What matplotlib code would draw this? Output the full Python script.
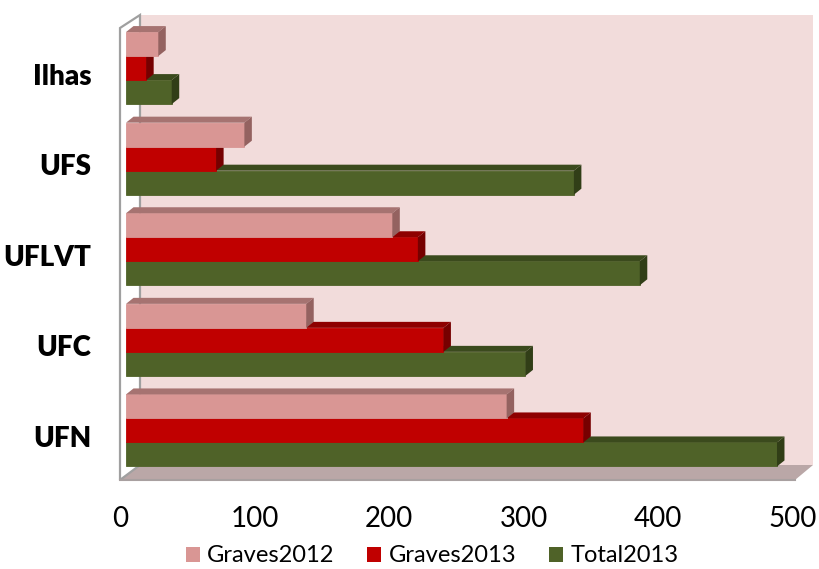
import matplotlib
matplotlib.use('Agg')
import matplotlib.pyplot as plt
from matplotlib.patches import Polygon, Patch
from matplotlib.transforms import ScaledTranslation, IdentityTransform

plt.rcParams['font.family'] = ['Lato', 'DejaVu Sans']

# categories listed bottom -> top
categories = ['UFN', 'UFC', 'UFLVT', 'UFS', 'Ilhas']
graves2012 = [283, 134, 198, 88, 24]
graves2013 = [340, 236, 217, 67, 15]
total2013 = [484, 297, 382, 333, 34]
series_names = ['Graves2012', 'Graves2013', 'Total2013']

# front, top, side colours
colours = {
    'Graves2012': ('#D99694', '#A67371', '#946260'),
    'Graves2013': ('#C00000', '#8E0000', '#760000'),
    'Total2013': ('#4F6228', '#3B4A1D', '#313E17'),
}

W, H = 820, 569
fig = plt.figure(figsize=(W / 100, H / 100), dpi=100)

# walls and floor, drawn in pixel space
bg = fig.add_axes([0, 0, 1, 1], zorder=0)
bg.set_xlim(0, W)
bg.set_ylim(H, 0)
bg.axis('off')
bg.add_patch(Polygon([(140, 15), (813, 15), (813, 465), (140, 465)],
                     closed=True, fc='#F2DCDB', ec='none'))
bg.add_patch(Polygon([(120, 480), (795, 480), (813, 465), (140, 465)],
                     closed=True, fc='#BAA7A7', ec='none'))
bg.plot([120, 795], [479.5, 479.5], color='#A8A0A0', lw=1.5)
bg.add_patch(Polygon([(120, 28), (140, 15), (140, 465), (120, 480)],
                     closed=True, fc='white', ec='#A0A0A0', lw=1.6))

ax = fig.add_axes([126 / W, (H - 480) / H, 672.5 / W, (480 - 15) / H], zorder=1)
ax.set_xlim(0, 500)
ax.set_ylim(-0.547, 4.586)
ax.patch.set_visible(False)
for s in ax.spines.values():
    s.set_visible(False)

h = 0.265
offsets = {'Graves2012': h, 'Graves2013': 0, 'Total2013': -h}
data = {'Graves2012': graves2012, 'Graves2013': graves2013, 'Total2013': total2013}
dx, dy = 7.5, 6

z = 2.0
for i in range(len(categories)):
    for name in ['Total2013', 'Graves2013', 'Graves2012']:
        front, topc, sidec = colours[name]
        y = i + offsets[name]
        v = data[name][i]
        ax.barh(y, v, height=h, color=front, zorder=z, lw=0.6, edgecolor=front)
        x0, yb = ax.transData.transform((0, y - h / 2))
        x1, yt = ax.transData.transform((v, y + h / 2))
        top = [(x0, yt), (x1, yt), (x1 + dx, yt + dy), (x0 + dx, yt + dy)]
        side = [(x1, yb), (x1, yt), (x1 + dx, yt + dy), (x1 + dx, yb + dy)]
        ax.add_patch(Polygon(top, closed=True, transform=IdentityTransform(),
                             fc=topc, ec='none', zorder=z, clip_on=False))
        ax.add_patch(Polygon(side, closed=True, transform=IdentityTransform(),
                             fc=sidec, ec='none', zorder=z, clip_on=False))
        z += 0.01

ax.set_xticks([0, 100, 200, 300, 400, 500])
ax.tick_params(axis='x', length=0, pad=19, labelsize=20)
for lab in ax.get_xticklabels():
    lab.set_transform(lab.get_transform() + ScaledTranslation(-6 / 100, 0, fig.dpi_scale_trans))

ax.set_yticks(range(len(categories)))
ax.set_yticklabels(categories, fontweight='heavy', fontsize=20)
ax.tick_params(axis='y', length=0, pad=25)
for lab in ax.get_yticklabels():
    lab.set_transform(lab.get_transform() + ScaledTranslation(0, -6 / 100, fig.dpi_scale_trans))

handles = [Patch(fc=colours[n][0], ec='none') for n in series_names]
fig.legend(handles, series_names, loc='center', bbox_to_anchor=(432 / W, 1 - 556 / H),
           ncol=3, frameon=False, fontsize=17, handlelength=0.6, handleheight=0.6,
           handletextpad=0.3, columnspacing=1.4, borderpad=0, borderaxespad=0)

fig.savefig('out.png', dpi=100)
